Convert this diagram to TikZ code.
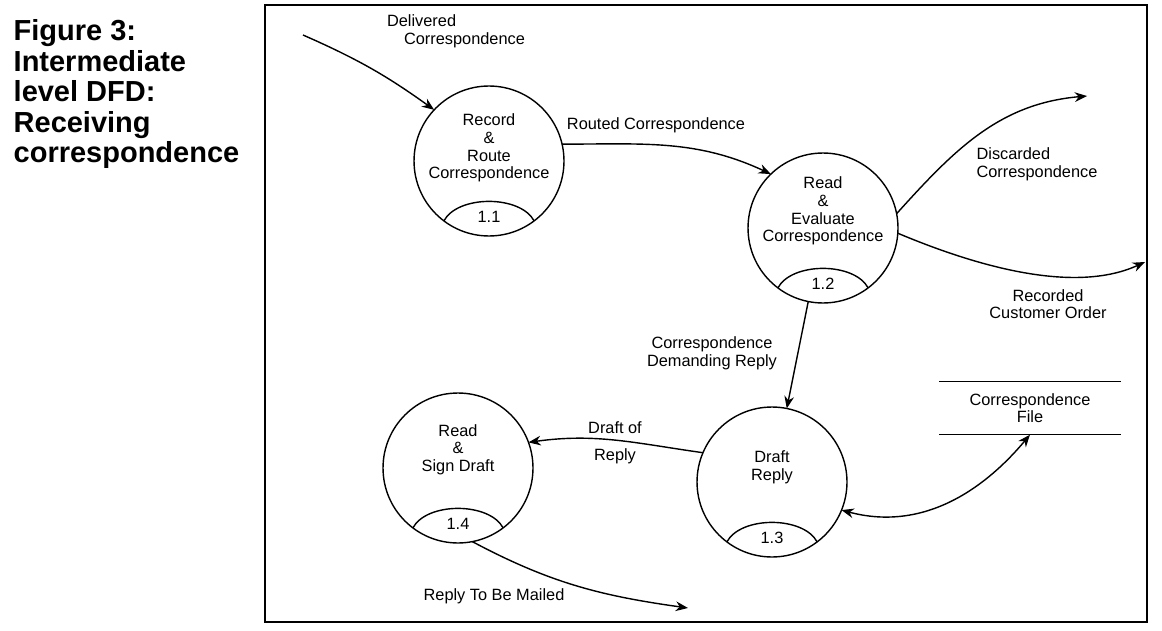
\documentclass[tikz,border=0pt]{standalone}
\usepackage{fontspec}
\setmainfont{Liberation Sans}
\usetikzlibrary{arrows.meta}

\begin{document}
\begin{tikzpicture}[x=0.02cm, y=0.02cm, line width=0.8pt,
    >={Stealth[length=7pt,width=5.5pt]},
    proc/.style={draw, circle, minimum size=3cm, inner sep=0pt, outer sep=0pt},
    txt/.style={align=center, font=\fontsize{9.3}{10}\selectfont, inner sep=0pt},
    title/.style={align=left, font=\fontsize{16.5}{17.4}\selectfont\bfseries, inner sep=0pt}]
    \useasboundingbox (0,0) rectangle (1162,630);
    \draw[line width=1pt] (265,8) rectangle (1147,625);

    \node[title, anchor=north west] (fig) at (13,611) {Figure 3:\\Intermediate\\level DFD:\\Receiving\\correspondence};

    % processes
    \node[proc] (p11) at (489,469) {};
    \node[proc] (p12) at (823,402) {};
    \node[proc] (p13) at (772,148) {};
    \node[proc] (p14) at (458,162) {};
    \node[txt] (t11) at ([yshift=0.26cm]p11.center) {Record\\\&\\Route\\Correspondence};
    \node[txt] (t12) at ([yshift=0.34cm]p12.center) {Read\\\&\\Evaluate\\Correspondence};
    \node[txt] (t13) at ([yshift=0.3cm]p13.center) {Draft\\Reply};
    \node[txt] (t14) at ([yshift=0.37cm]p14.center) {Read\\\&\\Sign Draft};
    \foreach \p/\n in {p11/1.1, p12/1.2, p13/1.3, p14/1.4} {
        \draw (\p.-127) .. controls +(14,26) and +(-14,26) .. (\p.-53);
        \node[txt] (n\p) at ([yshift=0.38cm]\p.south) {\n};
    }

    % data store
    \node[txt, minimum width=3.6cm, minimum height=1.04cm] (file) at (1030,222) {Correspondence\\File};
    \draw (file.north west) -- (file.north east);
    \draw (file.south west) -- (file.south east);

    % flows
    \coordinate (src) at (303,595);
    \coordinate (disc) at (1087,534);
    \coordinate (order) at (1145,368);
    \coordinate (mail) at (688,22);

    \draw[->] (src) to[bend left=6] (p11.137);
    \node[txt, align=left] (l1) at (456,599) {Delivered\\\hspace{0.34cm}Correspondence};

    \draw[->] (p11.13) to[out=0, in=155] (p12.134);
    \node[txt] (l2) at (656,505) {Routed Correspondence};

    \draw[->] (p12.11) to[out=48, in=185] (disc);
    \node[txt, align=left] (l3) at (1037,466) {Discarded\\Correspondence};

    \draw[->] (p12.-4) .. controls (990,358) and (1080,338) .. (order);
    \node[txt] (l4) at (1048,326) {Recorded\\Customer Order};

    \draw[->] (p12) -- (p13);
    \node[txt] (l5) at (712,277) {Correspondence\\Demanding Reply};

    \draw[->] (p13.157) to[out=172, in=8] (p14.20);
    \node[txt] (l6) at (615,187) {Draft of\\[5.3pt]Reply};

    \draw[->] (p14.-79) to[out=-28, in=172] (mail);
    \node[txt] (l7) at (494,34) {Reply To Be Mailed};

    \draw[<->] (p13.-22) to[out=-15, in=-130] (file.south);
\end{tikzpicture}
\end{document}
